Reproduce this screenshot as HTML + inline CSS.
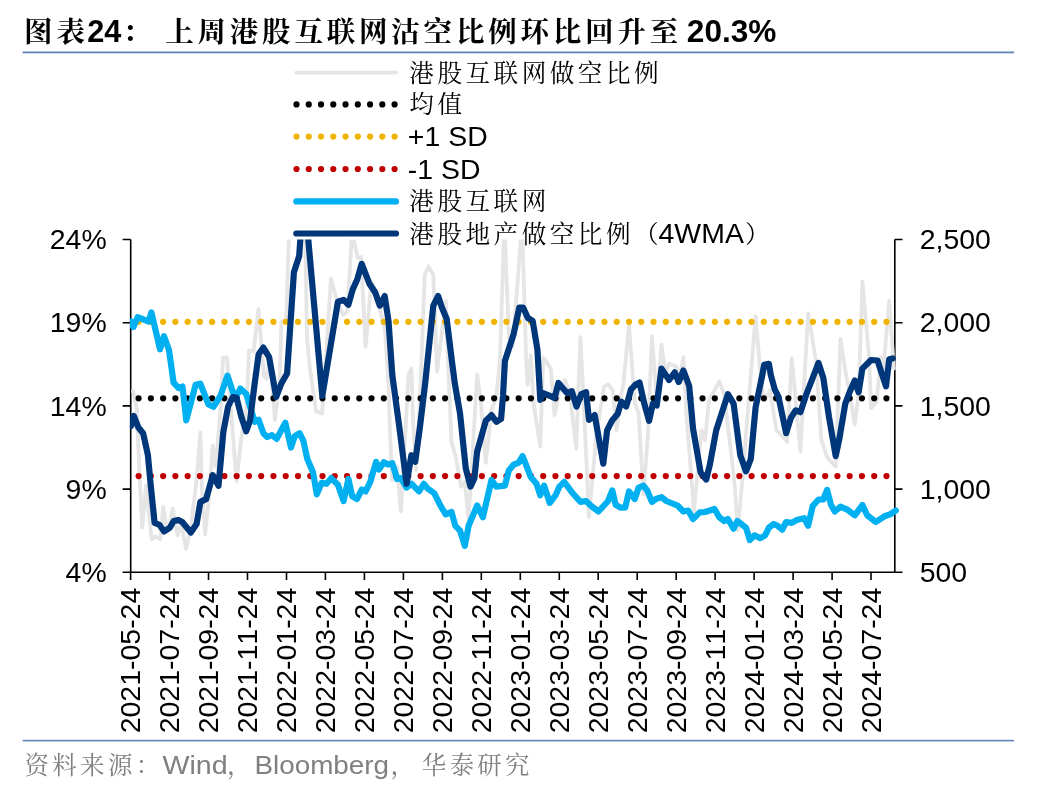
<!DOCTYPE html>
<html lang="zh"><head><meta charset="utf-8"><title>chart</title>
<style>
html,body{margin:0;padding:0;background:#fff;}
body{width:1048px;height:792px;overflow:hidden;position:relative;}
svg{position:absolute;left:0;top:0;display:block;will-change:transform;}
text{font-family:"Liberation Sans", "Noto Sans CJK SC", sans-serif;fill:#000;font-kerning:none;}
.k{font-family:"Liberation Sans", "Noto Serif CJK SC", serif;}
.b{font-weight:bold;}
.g{fill:#808080;}
</style></head><body>
<svg width="1048" height="792" viewBox="0 0 1048 792">
<defs><clipPath id="pc"><rect x="129.9" y="239.6" width="780" height="340"/></clipPath></defs>

<text class="k b" transform="translate(24.1,41.5)" font-size="28.5" letter-spacing="3.8">图表</text>
<text class="b" transform="translate(87.3,41.5)" font-size="30.7">24</text>
<text class="k b" transform="translate(122.8,41.5)" font-size="28.5">：</text>
<text class="k b" transform="translate(165.2,41.5)" font-size="28.5" letter-spacing="3.8">上周港股互联网沽空比例环比回升至</text>
<text class="b" transform="translate(686.8,41.5) scale(1.03,1)" font-size="30.7">20.3%</text>
<rect x="22.6" y="51.5" width="991.4" height="1.8" fill="#5f84b6"/>
<rect x="22.6" y="739.8" width="991.4" height="1.6" fill="#5f84b6"/>
<text class="k g" transform="translate(24.5,773.7)" font-size="24.5" letter-spacing="3.3">资料来源：</text>
<text class="g" transform="translate(162.5,774.2) scale(1.08,1)" font-size="26.5">Wind</text>
<text class="k g" transform="translate(227.0,773.7)" font-size="24.5">，</text>
<text class="g" transform="translate(254.5,774.2) scale(1.05,1)" font-size="26.5">Bloomberg</text>
<text class="k g" transform="translate(390.4,773.7)" font-size="24.5">，</text>
<text class="k g" transform="translate(421.7,773.7)" font-size="24.5" letter-spacing="3.3">华泰研究</text>
<g stroke="#000" stroke-width="1.6" fill="none">
<path d="M130.7 239.5 V572.3 H894.8 V239.5"/>
<path d="M122.6 239.5 H130.7 M894.8 239.5 H902.5"/>
<path d="M122.6 322.7 H130.7 M894.8 322.7 H902.5"/>
<path d="M122.6 405.9 H130.7 M894.8 405.9 H902.5"/>
<path d="M122.6 489.1 H130.7 M894.8 489.1 H902.5"/>
<path d="M122.6 572.3 H130.7 M894.8 572.3 H902.5"/>
<path d="M130.6 572.3 V580"/>
<path d="M169.6 572.3 V580"/>
<path d="M208.5 572.3 V580"/>
<path d="M247.5 572.3 V580"/>
<path d="M286.5 572.3 V580"/>
<path d="M325.4 572.3 V580"/>
<path d="M364.4 572.3 V580"/>
<path d="M403.4 572.3 V580"/>
<path d="M442.4 572.3 V580"/>
<path d="M481.3 572.3 V580"/>
<path d="M520.3 572.3 V580"/>
<path d="M559.3 572.3 V580"/>
<path d="M598.2 572.3 V580"/>
<path d="M637.2 572.3 V580"/>
<path d="M676.2 572.3 V580"/>
<path d="M715.1 572.3 V580"/>
<path d="M754.1 572.3 V580"/>
<path d="M793.1 572.3 V580"/>
<path d="M832.1 572.3 V580"/>
<path d="M871.0 572.3 V580"/>
</g>
<g clip-path="url(#pc)" fill="none" stroke-linejoin="round" stroke-linecap="round">
<polyline points="132.9,391.0 134.5,396.0 136.8,409.4 139.3,470.0 142.2,527.7 146.0,485.7 151.7,539.2 155.5,536.3 160.3,539.2 163.2,506.7 166.0,523.9 168.9,529.6 172.7,508.6 177.5,535.3 181.3,523.9 186.1,548.7 190.8,527.7 196.6,480.0 200.4,432.3 202.0,490.0 205.2,534.4 209.0,497.2 212.8,445.6 215.6,466.6 220.4,411.3 223.0,357.5 227.0,357.5 231.8,420.0 236.6,481.0 241.0,440.0 246.6,406.0 249.0,350.5 253.5,351.5 258.5,309.0 264.0,376.0 266.5,379.0 270.0,359.0 275.0,420.0 280.0,374.0 281.3,322.0 286.2,320.0 288.7,241.0 290.0,225.0 304.5,225.0 305.3,241.0 307.0,339.0 310.0,369.0 316.0,411.0 322.0,413.5 323.5,394.0 331.0,278.5 336.0,297.5 343.0,315.0 347.4,311.3 351.5,241.5 354.0,241.5 357.7,258.0 361.0,257.0 365.6,347.0 370.6,290.0 373.0,283.0 376.0,300.0 380.0,310.0 385.0,330.0 388.5,385.0 390.4,442.0 392.3,480.0 397.0,466.6 400.9,511.5 408.5,375.0 411.4,368.6 413.0,420.0 416.0,470.0 419.0,420.0 421.9,349.5 424.7,275.0 428.5,266.5 433.3,275.0 437.1,371.5 445.7,300.8 448.6,375.0 451.5,441.8 456.2,459.0 461.0,486.6 464.8,481.9 468.6,519.0 477.2,374.3 481.0,403.6 485.8,462.8 491.5,409.4 496.3,397.9 500.0,358.0 504.4,222.0 508.9,337.0 512.8,346.6 517.5,283.0 522.0,222.0 526.2,360.0 527.7,385.0 530.8,355.2 533.6,403.6 540.3,446.6 543.2,357.1 550.8,368.6 554.6,415.1 560.3,386.5 565.0,380.0 569.9,394.0 576.2,448.5 580.4,337.1 584.2,413.2 589.0,517.2 596.6,432.3 604.2,386.5 608.1,384.5 612.8,390.3 616.6,430.3 621.4,394.1 623.3,384.8 629.0,324.7 634.8,403.6 638.6,413.2 643.4,494.3 648.1,432.3 651.9,336.1 656.7,400.0 661.5,344.7 665.3,372.4 669.1,363.8 676.8,366.7 679.6,380.0 683.4,357.1 686.3,413.2 690.1,460.9 693.9,511.5 697.7,470.4 701.6,430.3 705.0,440.0 709.0,400.0 714.5,390.3 719.3,381.5 724.1,394.1 729.8,441.8 734.6,483.8 737.8,530.0 743.2,470.4 748.9,397.9 755.6,316.1 761.3,384.8 765.0,400.0 769.9,390.3 776.6,430.3 787.1,441.8 791.8,358.1 800.4,451.3 808.1,313.2 815.7,359.0 821.4,439.9 827.1,457.1 835.7,466.6 840.5,339.0 846.2,376.2 850.0,394.1 854.8,424.6 858.6,394.1 862.4,281.7 869.1,357.1 871.0,408.4 876.8,401.7 880.6,357.1 883.4,368.6 889.2,300.8 893.9,368.6" stroke="#e5e5e5" stroke-width="3.8"/>
<line x1="138.6" y1="398.3" x2="890" y2="398.3" stroke="#000" stroke-width="6.2" stroke-dasharray="0 12.26"/>
<line x1="138.6" y1="321.8" x2="890" y2="321.8" stroke="#f0b400" stroke-width="6.2" stroke-dasharray="0 12.26"/>
<line x1="138.6" y1="476.1" x2="890" y2="476.1" stroke="#c00000" stroke-width="6.2" stroke-dasharray="0 12.26"/>
<polyline points="130.8,321.6 133.4,327.0 137.6,317.2 148.7,321.5 151.4,312.4 160.0,349.3 164.0,336.2 169.0,350.0 173.6,382.7 178.7,388.2 182.5,386.5 186.3,420.3 195.6,384.8 200.3,383.7 208.5,404.5 213.4,406.8 220.4,396.0 227.5,375.6 235.2,399.0 240.3,388.5 246.2,394.1 254.8,421.8 258.6,419.8 263.4,433.2 267.2,437.0 271.9,435.1 276.7,438.9 285.3,422.7 291.0,447.5 294.8,436.1 299.6,433.2 303.4,440.8 307.3,459.0 313.0,472.3 316.8,494.3 321.7,482.8 326.5,483.8 331.2,478.1 337.9,484.7 343.6,501.0 348.4,479.0 352.2,496.2 357.0,499.0 361.8,489.5 365.6,491.4 370.3,481.9 376.1,461.8 378.9,469.5 383.9,462.2 387.9,464.6 392.3,463.2 397.1,479.0 400.9,478.1 406.6,487.6 411.4,483.8 419.0,491.4 423.8,483.8 427.6,488.5 434.3,493.3 441.0,506.7 445.7,514.3 451.5,512.0 455.3,525.8 460.0,530.6 464.8,545.8 468.6,525.8 477.2,505.5 482.9,517.2 491.5,480.0 496.3,486.6 504.9,485.7 508.8,470.4 513.6,464.7 518.4,462.8 522.6,456.1 530.8,477.1 536.5,483.8 540.3,495.2 544.1,485.7 549.8,502.9 555.6,495.2 559.4,486.6 564.2,481.9 572.7,493.3 580.4,501.9 586.1,501.0 590.9,505.7 598.5,511.5 608.1,501.0 612.3,490.5 615.7,504.8 620.5,507.6 625.2,507.6 629.0,491.4 634.8,499.0 638.6,487.6 643.4,485.7 647.2,490.5 651.9,501.9 655.8,499.0 661.5,497.1 666.3,501.0 677.7,505.7 683.4,511.5 688.2,510.5 693.0,519.1 699.7,512.4 705.0,512.0 714.5,509.0 719.3,517.2 724.1,521.0 727.9,519.0 733.6,528.7 737.4,521.0 746.0,527.7 749.8,540.1 754.6,535.3 760.3,538.2 765.1,535.3 768.9,527.7 773.7,523.9 777.5,525.8 782.3,529.6 786.1,522.0 791.8,522.9 796.6,520.1 804.2,518.2 808.1,525.8 812.8,505.8 818.5,499.5 823.3,499.5 827.1,490.0 831.0,504.8 834.8,511.5 840.5,506.7 847.2,509.6 854.8,515.3 862.4,505.0 867.2,515.3 875.8,522.0 884.4,516.3 890.1,514.4 895.8,510.5" stroke="#00b0f0" stroke-width="6.2"/>
<polyline points="131.0,426.0 133.8,416.0 138.4,427.5 143.1,433.2 147.9,455.0 150.5,483.0 154.6,522.9 159.4,524.8 164.1,531.5 169.8,527.7 173.7,521.0 178.4,520.1 182.3,522.0 190.8,532.5 196.6,523.9 200.4,501.9 206.1,499.1 212.8,475.2 218.5,485.7 223.3,432.3 228.1,406.5 232.8,397.0 236.5,397.5 241.4,417.0 246.2,431.3 250.0,420.8 254.5,384.8 258.6,354.3 263.4,347.6 269.1,357.1 276.2,397.0 281.6,383.0 287.1,373.5 293.9,272.2 299.2,256.0 300.3,239.8 300.6,225.0 306.9,225.0 308.3,239.8 322.3,396.0 337.9,301.8 343.6,299.9 348.4,304.7 352.7,289.5 357.2,279.5 361.7,263.8 369.4,283.7 375.1,292.3 379.9,305.6 384.7,296.1 388.5,320.9 392.3,375.0 399.0,424.6 406.6,483.8 411.4,455.2 415.2,461.8 420.0,426.5 425.0,384.8 429.5,341.9 433.3,305.6 438.1,296.1 441.9,307.5 446.7,319.0 452.4,364.8 455.0,384.8 460.0,413.2 465.8,468.5 470.5,486.6 474.4,478.1 477.2,451.3 485.8,420.8 491.5,415.1 496.3,421.8 501.1,418.9 503.0,396.0 504.9,361.0 513.6,334.2 519.3,307.5 523.1,307.5 527.9,318.0 532.7,320.9 537.4,349.5 540.3,399.8 543.2,393.1 554.6,397.9 558.4,383.0 567.0,393.1 571.8,391.2 576.6,406.5 581.3,394.1 586.1,392.2 589.0,419.8 594.7,415.1 603.3,463.7 607.1,430.3 611.9,420.8 617.6,414.1 621.4,401.7 626.2,406.5 631.0,389.3 635.7,384.5 639.5,382.5 644.3,403.6 649.1,420.8 652.9,403.6 656.7,405.5 661.5,368.6 669.1,380.0 674.8,372.4 678.7,382.0 683.4,370.5 689.2,386.0 693.0,428.4 700.6,472.3 706.2,479.5 709.8,465.0 716.2,430.3 727.9,394.1 733.6,403.6 740.3,455.2 746.0,471.4 750.8,459.0 755.6,407.4 762.3,375.0 764.2,364.8 768.9,363.8 770.8,375.0 774.7,389.3 778.5,396.9 786.1,433.2 790.9,417.9 795.6,410.3 800.4,412.2 806.1,395.0 818.5,362.9 823.3,378.0 829.0,417.0 835.7,456.1 839.5,438.0 845.3,403.6 850.0,391.2 854.8,380.5 858.6,392.2 862.4,368.6 871.0,360.0 877.5,360.5 886.0,386.3 889.2,359.3 892.6,358.4" stroke="#00377a" stroke-width="6.2"/>
</g>
<text transform="translate(106.7,249.2) scale(1.058,1)" font-size="26.9" text-anchor="end">24%</text>
<text transform="translate(919.7,249.2) scale(1.058,1)" font-size="26.9">2,500</text>
<text transform="translate(106.7,332.4) scale(1.058,1)" font-size="26.9" text-anchor="end">19%</text>
<text transform="translate(919.7,332.4) scale(1.058,1)" font-size="26.9">2,000</text>
<text transform="translate(106.7,415.6) scale(1.058,1)" font-size="26.9" text-anchor="end">14%</text>
<text transform="translate(919.7,415.6) scale(1.058,1)" font-size="26.9">1,500</text>
<text transform="translate(106.7,498.8) scale(1.058,1)" font-size="26.9" text-anchor="end">9%</text>
<text transform="translate(919.7,498.8) scale(1.058,1)" font-size="26.9">1,000</text>
<text transform="translate(106.7,582.0) scale(1.058,1)" font-size="26.9" text-anchor="end">4%</text>
<text transform="translate(919.7,582.0) scale(1.058,1)" font-size="26.9">500</text>
<text transform="translate(140.3,733.3) rotate(-90) scale(1.058,1)" font-size="26.9">2021-05-24</text>
<text transform="translate(179.3,733.3) rotate(-90) scale(1.058,1)" font-size="26.9">2021-07-24</text>
<text transform="translate(218.2,733.3) rotate(-90) scale(1.058,1)" font-size="26.9">2021-09-24</text>
<text transform="translate(257.2,733.3) rotate(-90) scale(1.058,1)" font-size="26.9">2021-11-24</text>
<text transform="translate(296.2,733.3) rotate(-90) scale(1.058,1)" font-size="26.9">2022-01-24</text>
<text transform="translate(335.1,733.3) rotate(-90) scale(1.058,1)" font-size="26.9">2022-03-24</text>
<text transform="translate(374.1,733.3) rotate(-90) scale(1.058,1)" font-size="26.9">2022-05-24</text>
<text transform="translate(413.1,733.3) rotate(-90) scale(1.058,1)" font-size="26.9">2022-07-24</text>
<text transform="translate(452.1,733.3) rotate(-90) scale(1.058,1)" font-size="26.9">2022-09-24</text>
<text transform="translate(491.0,733.3) rotate(-90) scale(1.058,1)" font-size="26.9">2022-11-24</text>
<text transform="translate(530.0,733.3) rotate(-90) scale(1.058,1)" font-size="26.9">2023-01-24</text>
<text transform="translate(569.0,733.3) rotate(-90) scale(1.058,1)" font-size="26.9">2023-03-24</text>
<text transform="translate(607.9,733.3) rotate(-90) scale(1.058,1)" font-size="26.9">2023-05-24</text>
<text transform="translate(646.9,733.3) rotate(-90) scale(1.058,1)" font-size="26.9">2023-07-24</text>
<text transform="translate(685.9,733.3) rotate(-90) scale(1.058,1)" font-size="26.9">2023-09-24</text>
<text transform="translate(724.8,733.3) rotate(-90) scale(1.058,1)" font-size="26.9">2023-11-24</text>
<text transform="translate(763.8,733.3) rotate(-90) scale(1.058,1)" font-size="26.9">2024-01-24</text>
<text transform="translate(802.8,733.3) rotate(-90) scale(1.058,1)" font-size="26.9">2024-03-24</text>
<text transform="translate(841.8,733.3) rotate(-90) scale(1.058,1)" font-size="26.9">2024-05-24</text>
<text transform="translate(880.7,733.3) rotate(-90) scale(1.058,1)" font-size="26.9">2024-07-24</text>
<g fill="none" stroke-linecap="round">
<line x1="296.3" y1="72.6" x2="396" y2="72.6" stroke="#e5e5e5" stroke-width="3.8"/>
<line x1="296.5" y1="104.4" x2="400" y2="104.4" stroke="#000" stroke-width="6.2" stroke-dasharray="0 12.26"/>
<line x1="296.5" y1="136.6" x2="400" y2="136.6" stroke="#f0b400" stroke-width="6.2" stroke-dasharray="0 12.26"/>
<line x1="296.5" y1="169" x2="400" y2="169" stroke="#c00000" stroke-width="6.2" stroke-dasharray="0 12.26"/>
<line x1="296.3" y1="201.4" x2="396" y2="201.4" stroke="#00b0f0" stroke-width="6.2"/>
<line x1="296.3" y1="233.5" x2="396" y2="233.5" stroke="#00377a" stroke-width="6.2"/>
</g>
<text class="k" transform="translate(409.3,81.6)" font-size="24.6" letter-spacing="3.5">港股互联网做空比例</text>
<text class="k" transform="translate(409.3,113.4)" font-size="24.6" letter-spacing="3.5">均值</text>
<text transform="translate(407.8,146.3) scale(1.058,1)" font-size="26.9">+1 SD</text>
<text transform="translate(407.8,178.7) scale(1.058,1)" font-size="26.9">-1 SD</text>
<text class="k" transform="translate(409.3,210.4)" font-size="24.6" letter-spacing="3.5">港股互联网</text>
<text class="k" transform="translate(409.3,242.5)" font-size="24.6" letter-spacing="3.5">港股地产做空比例（</text>
<text transform="translate(658.5,243.2) scale(1.058,1)" font-size="26.9">4WMA</text>
<text class="k" transform="translate(745.0,242.5)" font-size="24.6">）</text>
</svg></body></html>
